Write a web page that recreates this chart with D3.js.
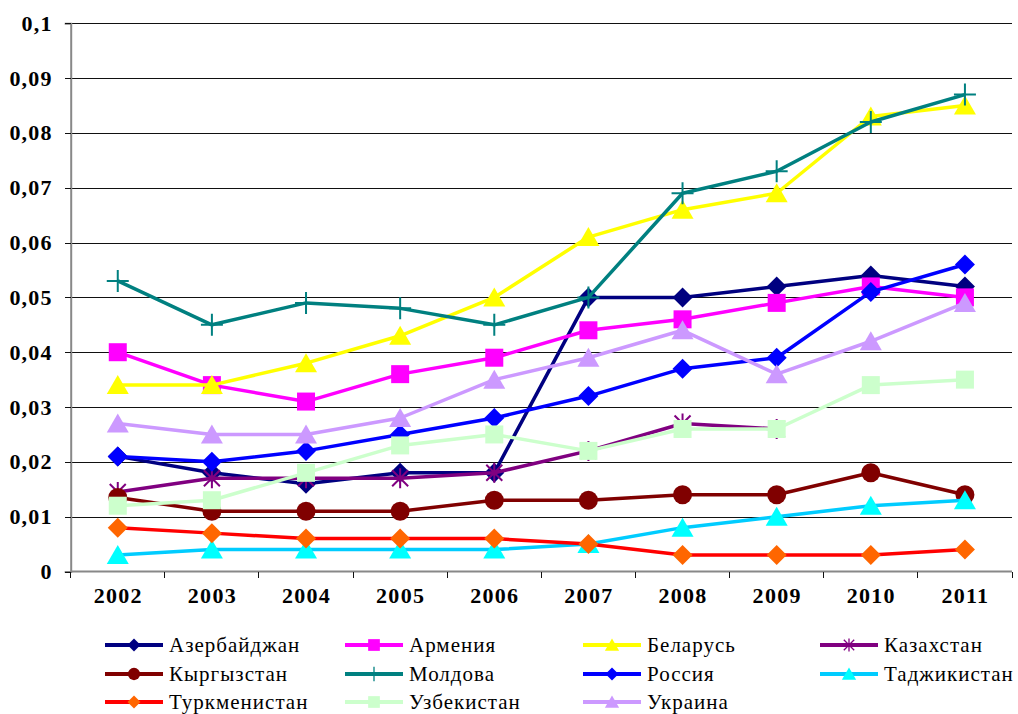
<!DOCTYPE html>
<html><head><meta charset="utf-8">
<script src="https://cdn.jsdelivr.net/npm/d3@7"></script>
<style>body{margin:0;background:#fff} svg{display:block}</style>
</head><body><svg id="c" width="1018" height="714"></svg>
<script>
const years = ["2002","2003","2004","2005","2006","2007","2008","2009","2010","2011"];
const yTicks = [0,0.01,0.02,0.03,0.04,0.05,0.06,0.07,0.08,0.09,0.1];
const names = ["Азербайджан","Армения","Беларусь","Казахстан","Кыргызстан","Молдова","Россия","Таджикистан","Туркменистан","Узбекистан","Украина"];

const azerbaijan   = [0.021,0.018,0.016,0.018,0.018,0.050,0.050,0.052,0.054,0.052];
const armenia      = [0.040,0.034,0.031,0.036,0.039,0.044,0.046,0.049,0.052,0.050];
const belarus      = [0.034,0.034,0.038,0.043,0.050,0.061,0.066,0.069,0.083,0.085];
const kazakhstan   = [0.0145,0.017,0.017,0.017,0.018,0.022,0.027,0.026,null,null];
const kyrgyzstan   = [0.0135,0.011,0.011,0.011,0.013,0.013,0.014,0.014,0.018,0.014];
const moldova      = [0.053,0.045,0.049,0.048,0.045,0.050,0.069,0.073,0.082,0.087];
const russia       = [0.021,0.020,0.022,0.025,0.028,0.032,0.037,0.039,0.051,0.056];
const tajikistan   = [0.003,0.004,0.004,0.004,0.004,0.005,0.008,0.010,0.012,0.013];
const turkmenistan = [0.008,0.007,0.006,0.006,0.006,0.005,0.003,0.003,0.003,0.004];
const uzbekistan   = [0.012,0.013,0.018,0.023,0.025,0.022,0.026,0.026,0.034,0.035];
const ukraine      = [0.027,0.025,0.025,0.028,0.035,0.039,0.044,0.036,0.042,0.049];

const seriesValues = [azerbaijan,armenia,belarus,kazakhstan,kyrgyzstan,moldova,russia,tajikistan,turkmenistan,uzbekistan,ukraine];

const styles = [
  {line:"#000080", fill:"#000080", shape:"diamond"},
  {line:"#FF00FF", fill:"#FF00FF", shape:"square"},
  {line:"#FFFF00", fill:"#FFFF00", shape:"triangle"},
  {line:"#800080", fill:"#800080", shape:"asterisk"},
  {line:"#800000", fill:"#800000", shape:"circle"},
  {line:"#008080", fill:"#008080", shape:"plus"},
  {line:"#0000FF", fill:"#0000FF", shape:"diamond"},
  {line:"#00CCFF", fill:"#00FFFF", shape:"triangle"},
  {line:"#FF0000", fill:"#FF6600", shape:"diamond"},
  {line:"#CCFFCC", fill:"#CCFFCC", shape:"square"},
  {line:"#CC99FF", fill:"#CC99FF", shape:"triangle"}
];

const FONT = '"Liberation Serif", "Times New Roman", serif';
const series = names.map((n,i)=>({name:n, values:seriesValues[i], style:styles[i]}));

const svg = d3.select("#c");
const pL=70.7, pR=1012, pT=23.3, pB=571.5;
const x = d3.scalePoint().domain(years).range([pL,pR]).padding(0.5);
const xb = d3.scaleBand().domain(years).range([pL,pR]);
const y = d3.scaleLinear().domain([0,0.1]).range([pB,pT]);
const fmt = d => d===0 ? "0" : String(+d.toFixed(2)).replace(".",",");

// gridlines
const grid = svg.append("g").attr("transform",`translate(${pL},0)`)
  .call(d3.axisLeft(y).tickValues(yTicks.filter(d=>d>0)).tickSize(-(pR-pL)).tickFormat(""));
grid.select(".domain").remove();
grid.selectAll("line").attr("stroke","#111").attr("stroke-width",1).attr("shape-rendering","crispEdges");

// y axis
const ya = svg.append("g").attr("transform",`translate(${pL},0)`)
  .call(d3.axisLeft(y).tickValues(yTicks).tickSize(6).tickPadding(12).tickFormat(fmt));
ya.select(".domain").attr("stroke","#888").attr("stroke-width",2);
ya.selectAll("line").attr("stroke","#111").attr("shape-rendering","crispEdges");
ya.selectAll("text").style("font-family",FONT).style("font-weight","bold")
  .style("font-size","22px").attr("fill","#000").style("letter-spacing","1.2px");

// x axis
const xa = svg.append("g").attr("transform",`translate(0,${pB})`)
  .call(d3.axisBottom(x).tickSize(0).tickPadding(16));
xa.select(".domain").attr("stroke","#888").attr("stroke-width",2).attr("d",`M${pL},0H${pR}`);
xa.selectAll("text").style("font-family",FONT).style("font-weight","bold")
  .style("font-size","22px").attr("fill","#000").style("letter-spacing","1.3px");
const bounds = years.map(d=>xb(d)).concat([pR]);
xa.selectAll(".btick").data(bounds).enter().append("line").attr("class","btick")
  .attr("x1",d=>d).attr("x2",d=>d).attr("y1",0).attr("y2",6).attr("stroke","#111").attr("shape-rendering","crispEdges");

function drawSymbol(g, shape, cx, cy, s, st){
  const t = g.append("g").attr("transform",`translate(${cx},${cy}) scale(${s})`);
  if(shape==="diamond"){
    t.append("path").attr("d","M0,-10L10,0L0,10L-10,0Z").attr("fill",st.fill);
  } else if(shape==="square"){
    t.append("rect").attr("x",-9).attr("y",-9).attr("width",18).attr("height",18).attr("fill",st.fill);
  } else if(shape==="triangle"){
    t.append("path").attr("d","M0,-10L11,9L-11,9Z").attr("fill",st.fill);
  } else if(shape==="circle"){
    t.append("circle").attr("r",9.5).attr("fill",st.fill);
  } else if(shape==="asterisk"){
    t.append("path").attr("d","M-8,-8L8,8M-8,8L8,-8M0,-10V10").attr("stroke",st.fill).attr("stroke-width",2).attr("fill","none");
  } else if(shape==="plus"){
    t.append("path").attr("d","M-11,0H11M0,-11V11").attr("stroke",st.fill).attr("stroke-width",2).attr("fill","none");
  }
}

const line = d3.line().defined(d=>d.v!=null).x(d=>x(d.year)).y(d=>y(d.v));
const plot = svg.append("g");
series.forEach(s=>{
  const pts = s.values.map((v,i)=>({year:years[i], v}));
  const g = plot.append("g");
  g.append("path").datum(pts).attr("d",line).attr("fill","none")
    .attr("stroke",s.style.line).attr("stroke-width",3.5).attr("stroke-linejoin","round");
  pts.filter(p=>p.v!=null).forEach(p=>drawSymbol(g, s.style.shape, x(p.year), y(p.v), 1, s.style));
});

// legend
const colX = [105,345,583,820], rowY = [645,674,702];
const leg = svg.append("g");
series.forEach((s,i)=>{
  const cx = colX[i%4], cy = rowY[Math.floor(i/4)];
  const g = leg.append("g");
  g.append("line").attr("x1",cx).attr("x2",cx+58).attr("y1",cy).attr("y2",cy)
    .attr("stroke",s.style.line).attr("stroke-width",4);
  drawSymbol(g, s.style.shape, cx+29, cy, 0.65, s.style);
  g.append("text").attr("x",cx+64).attr("y",cy).attr("dy","0.35em")
    .style("font-family",FONT).style("font-size","21px").style("letter-spacing","1px")
    .attr("fill","#000").text(s.name);
});
</script></body></html>
